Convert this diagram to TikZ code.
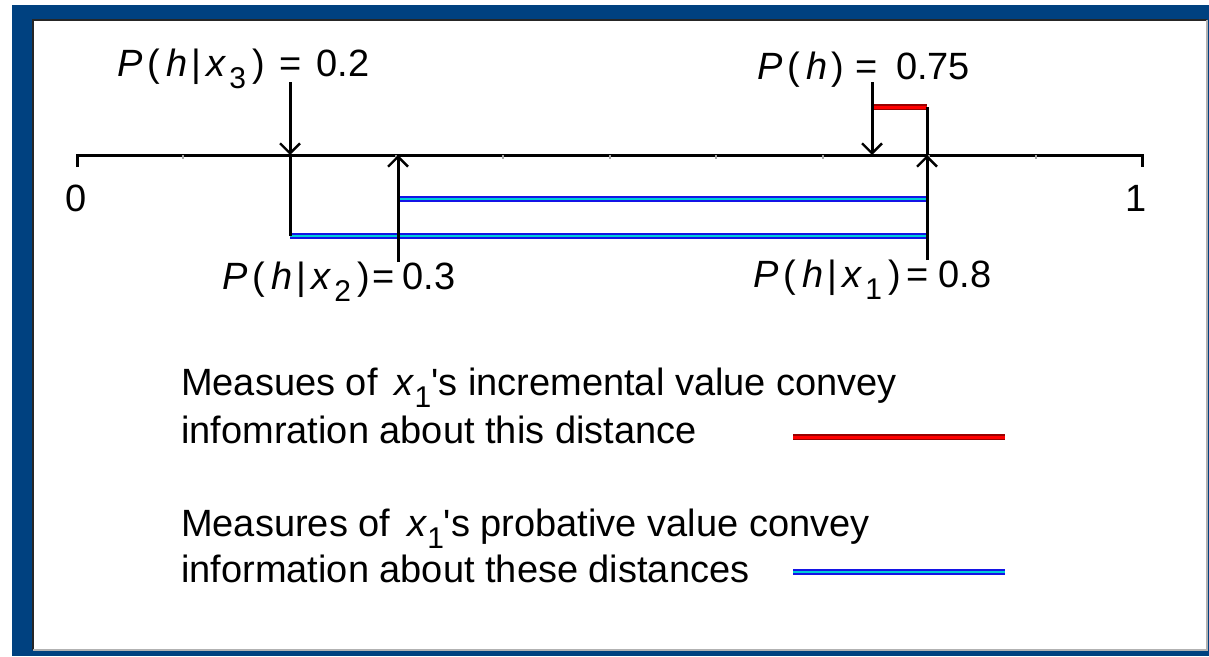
\documentclass[tikz,border=0pt]{standalone}
\usepackage{fontspec}
\setmainfont{Liberation Sans}[Ligatures=TeXOff]
\usetikzlibrary{arrows.meta, positioning, calc}

\definecolor{frameblue}{RGB}{0,65,128}
\definecolor{stripcyan}{RGB}{0,205,215}
\definecolor{stripblue}{RGB}{20,20,230}
\newcommand{\lowidx}[1]{\raisebox{-0.32em}{\fontsize{30}{30}\selectfont #1}}
\newcommand{\condprob}[1]{\textit{P}\kern5pt(\kern6pt\textit{h}\kern4pt|\kern5pt\textit{x}\kern3pt\lowidx{#1}\kern6pt)}

\begin{document}
\begin{tikzpicture}[
    x=1pt, y=-1pt,
    line/.style={line width=3pt},
    arrow/.style={line width=3pt, -{Straight Barb[length=10pt, width=20pt, line width=2.4pt]}},
    label/.style={font=\fontsize{38}{40}\selectfont, inner sep=0pt, anchor=base west},
    note/.style={font=\fontsize{38}{40}\selectfont, inner sep=0pt, anchor=base west},
    probstrip/.style={draw=stripblue, double=stripcyan, double distance=2.4pt, line width=1.9pt},
    incstrip/.style={draw=red!60!black, double=red, double distance=3pt, line width=1.5pt}
]
\useasboundingbox (0,0) rectangle (1209,656);

% Frame
\fill[frameblue] (12,5) rectangle (1209,656);
\fill[white] (33,20) rectangle (1207,650);
\draw[black!85, line width=1.5pt] (33,650) -- (33,20) -- (1207,20);
\draw[gray!60, line width=1.5pt] (33,650) -- (1207,650) -- (1207,20);

% Axis
\coordinate (zero) at (77,155);
\coordinate (one) at (1142,155);
\draw[line] (77,167) -- (zero) -- (one) -- (1142,167);
\foreach \t in {1,...,9}
    \draw[line width=2pt, gray!70] ($(zero)!\t/10!(one)$) -- ++(0,4);
\node[label, anchor=base] (lbl0) at (76,211) {0};
\node[label, anchor=base] (lbl1) at (1136,211) {1};

% Points on the axis
\coordinate (p2) at (290,155);
\coordinate (p3) at (398,155);
\coordinate (p75) at (872,155);
\coordinate (p8) at (927,155);
\coordinate (p2top) at (290,82);
\coordinate (p2low) at (290,236);
\coordinate (p3bot) at (398,262);
\coordinate (p3mid) at (398,199);
\coordinate (p75top) at (872,82);
\coordinate (p75bar) at (872,107);
\coordinate (p8bot) at (927,260);
\coordinate (p8bar) at (927,107);
\coordinate (p8low) at (927,236);
\coordinate (p8mid) at (927,199);

% Distances
\draw[probstrip] (p2low) -- (p8low);
\draw[probstrip] (p3mid) -- (p8mid);
\draw[incstrip] (p75bar) -- (p8bar);

% Arrows and legs
\draw[arrow] (p2top) -- (p2);
\draw[line] (p2) -- (p2low);
\draw[arrow] (p3bot) -- (p3);
\draw[arrow] (p75top) -- (p75);
\draw[arrow] (p8bot) -- (p8);
\draw[line] (p8) -- (p8bar);

% Labels
\node[label] (px3) at (117,76) {\condprob{3}\kern15pt=\kern15pt0.2};
\node[label] (ph) at (757,79) {\textit{P}\kern5pt(\kern6pt\textit{h}\kern4pt)\kern12pt=\kern18pt0.75};
\node[label] (px2) at (222,289) {\condprob{2}\kern3pt=\kern8pt0.3};
\node[label] (px1) at (753,287) {\condprob{1}\kern6pt=\kern10pt0.8};

% Legend
\node[note] (inca) at (181,395) {Measues of \,\textit{x}\lowidx{1}'s incremental value convey};
\node[note] (incb) at (181,443) {infomration about this distance};
\node[note] (proba) at (181,536) {Measures of \,\textit{x}\lowidx{1}'s probative value convey};
\node[note] (probb) at (181,582) {information about these distances};
\coordinate (incL) at (793,437);
\coordinate (incR) at (1005,437);
\coordinate (probL) at (793,572);
\coordinate (probR) at (1005,572);
\draw[incstrip] (incL) -- (incR);
\draw[probstrip] (probL) -- (probR);

\end{tikzpicture}
\end{document}
